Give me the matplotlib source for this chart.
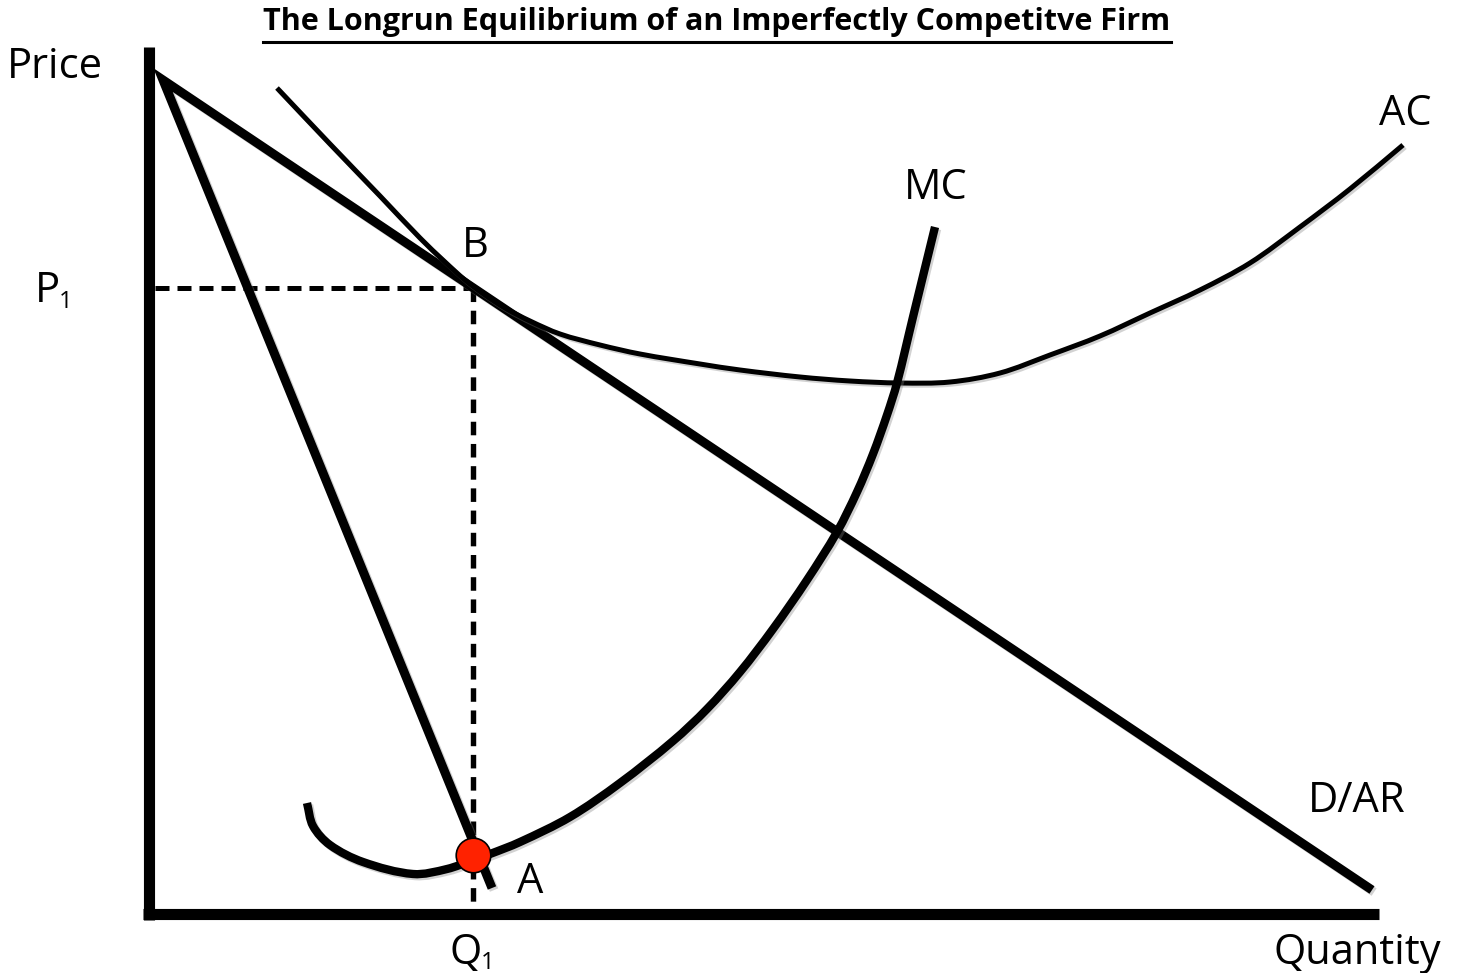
import matplotlib
matplotlib.use("Agg")
import matplotlib.pyplot as plt
import matplotlib.patheffects as pe
from matplotlib.lines import Line2D
from matplotlib.path import Path
from matplotlib.patches import PathPatch
import numpy as np

plt.rcParams['font.family'] = ['Open Sans', 'DejaVu Sans']

# ---------------- data (chart units: quantity, price) ----------------
demand_q = [14, 1223]
demand_p = [834, 24]

mr_q = [14, 343]
mr_p = [834, 26]

ac_q = [128, 181, 231, 271, 296, 316, 336, 356, 381, 411, 451, 491, 551, 591,
        651, 701, 751, 801, 851, 901, 951, 1001, 1051, 1101, 1151, 1201, 1254]
ac_p = [826, 770, 718, 676, 652, 634, 619, 606, 593, 580, 569, 560, 550, 544,
        537, 533, 531, 532, 541, 559, 578, 601, 624, 651, 687, 725, 769]

mc_q = [158, 164, 181, 214, 264, 298, 324, 341, 371, 421, 471, 524, 558, 591,
        624, 658, 688, 708, 724, 738, 748, 764, 786]
mc_p = [111, 88, 69, 52, 40, 45, 54, 60, 72, 97, 131, 173, 205, 242,
        285, 334, 382, 422, 460, 499, 531, 597, 687]

q1 = 324
p1 = 626
point_a = (324, 59)

title = "The Longrun Equilibrium of an Imperfectly Competitve Firm"


def smooth_path(xs, ys):
    """Cubic Bezier path through the points (chord-length Catmull-Rom tangents)."""
    pts = np.column_stack([xs, ys]).astype(float)
    n = len(pts)
    seg = np.hypot(*np.diff(pts, axis=0).T)
    t = np.concatenate([[0], np.cumsum(seg)])
    tang = np.zeros_like(pts)
    tang[0] = (pts[1] - pts[0]) / (t[1] - t[0])
    tang[-1] = (pts[-1] - pts[-2]) / (t[-1] - t[-2])
    for i in range(1, n - 1):
        tang[i] = (pts[i + 1] - pts[i - 1]) / (t[i + 1] - t[i - 1])
    verts = [pts[0]]
    codes = [Path.MOVETO]
    for i in range(n - 1):
        h = t[i + 1] - t[i]
        verts += [pts[i] + tang[i] * h / 3, pts[i + 1] - tang[i + 1] * h / 3, pts[i + 1]]
        codes += [Path.CURVE4] * 3
    return Path(verts, codes)


# ---------------- figure ----------------
W, H = 1457, 973
fig = plt.figure(figsize=(W / 100, H / 100), dpi=100)
ax = fig.add_axes([0, 0, 1, 1])
ax.set_xlim(-149, W - 149)
ax.set_ylim(-59, H - 59)
ax.set_xticks([])
ax.set_yticks([])
for s in ['top', 'right']:
    ax.spines[s].set_visible(False)
ax.spines['left'].set_position(('data', 0))
ax.spines['bottom'].set_position(('data', 0))
ax.spines['left'].set_bounds(-6, 867)
ax.spines['bottom'].set_bounds(-6, 1230)
for s in ['left', 'bottom']:
    ax.spines[s].set_linewidth(8)
    ax.spines[s].set_color('black')
    ax.spines[s].set_capstyle('butt')
ax.patch.set_visible(False)


def shadow():
    return [pe.SimpleLineShadow(offset=(1.5, -1.5), shadow_color='gray', alpha=0.35),
            pe.Normal()]


# dashed guides
ax.plot([6, q1], [p1, p1], color='black', lw=3.6, dashes=(2.8, 1.6), zorder=2)
ax.plot([q1, q1], [p1, 4], color='black', lw=3.9, dashes=(2.5, 1.6), zorder=2)

# D/AR and MR joined at the apex
ax.plot(mr_q[::-1] + demand_q[1:], mr_p[::-1] + demand_p[1:], color='black',
        lw=6.5, solid_joinstyle='miter', solid_capstyle='butt', zorder=3,
        path_effects=shadow())

# AC
ax.add_patch(PathPatch(smooth_path(ac_q, ac_p), fill=False, edgecolor='black',
                       lw=3.6, capstyle='butt', joinstyle='round', zorder=3,
                       path_effects=shadow()))

# MC
ax.add_patch(PathPatch(smooth_path(mc_q, mc_p), fill=False, edgecolor='black',
                       lw=6.0, capstyle='butt', joinstyle='round', zorder=4,
                       path_effects=shadow()))

# point A
ax.scatter([point_a[0]], [point_a[1]], s=620, color='#FF2200', edgecolor='black',
           linewidth=1.2, zorder=6)

# labels
lab = dict(fontsize=30, color='black', ha='center', va='baseline')
sub = dict(fontsize=17, color='black', ha='center', va='baseline')
ax.text(-94, 836, 'Price', **lab)
ax.text(-102, 612, 'P', **lab)
ax.text(-83, 606, '1', **sub)
ax.text(326, 657, 'B', **lab)
ax.text(787, 715, 'MC', **lab)
ax.text(1256, 789, 'AC', **lab)
ax.text(1208, 102, 'D/AR', **lab)
ax.text(381, 21, 'A', **lab)
ax.text(317, -50, 'Q', **lab)
ax.text(339, -55, '1', **sub)
ax.text(1208, -50, 'Quantity', **lab)

t = ax.text(568, 884, title, fontsize=22, fontweight='bold', ha='center',
            va='baseline')
fig.canvas.draw()
bb = t.get_window_extent()
uy = (H - 41.5) / H
fig.add_artist(Line2D([bb.x0 / W, bb.x1 / W], [uy, uy], color='black', lw=2.2))

fig.savefig('out.png', dpi=100)
